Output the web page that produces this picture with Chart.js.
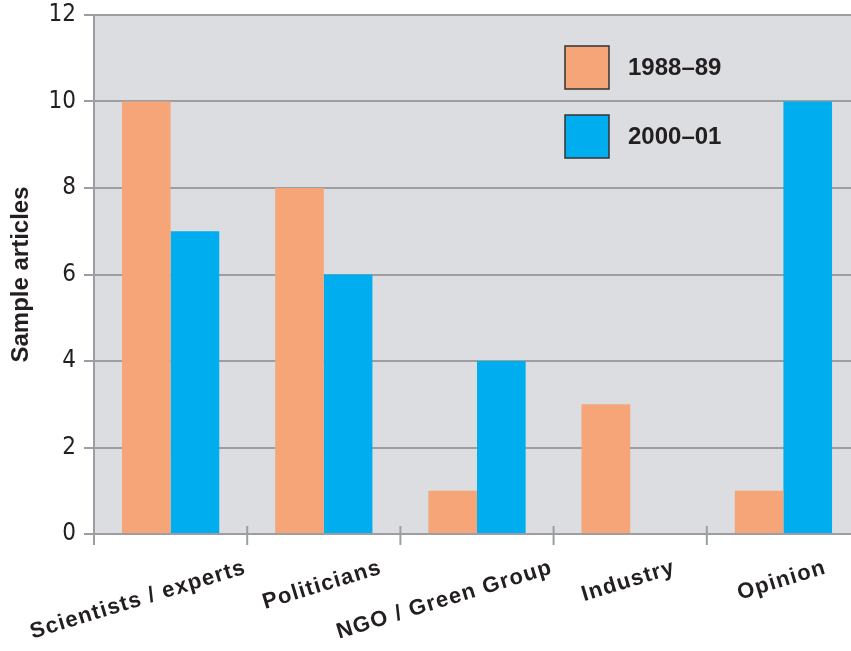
<!DOCTYPE html>
<html>
<head>
<meta charset="utf-8">
<script src="https://cdn.jsdelivr.net/npm/chart.js@4/dist/chart.umd.min.js"></script>
<style>
  html, body { margin: 0; padding: 0; background: #fff; overflow: hidden; }
  #wrap { width: 860px; height: 651px; }
</style>
</head>
<body>
<div id="wrap"><canvas id="chart"></canvas></div>
<script>
const categories = ["Scientists / experts", "Politicians", "NGO / Green Group", "Industry", "Opinion"];
const seriesNames = ["1988\u201389", "2000\u201301"];
const values1988 = [10, 8, 1, 3, 1];
const values2000 = [7, 6, 4, 0, 10];
const yTicks = [0, 2, 4, 6, 8, 10, 12];

const ORANGE = "#f5a578";
const BLUE = "#00adee";
const GRID = "#9c9ea1";
const TEXT = "#231f20";
const BOLD_FONT = "'Liberation Sans', Arial, sans-serif";

// plot background
const plotBg = {
  id: "plotBg",
  beforeDraw(chart) {
    const { ctx, chartArea: a } = chart;
    ctx.save();
    ctx.fillStyle = "#dcdde0";
    ctx.fillRect(a.left, a.top, a.right - a.left, a.bottom - a.top);
    ctx.restore();
  }
};

// legend drawn inside the plot, top right
const innerLegend = {
  id: "innerLegend",
  afterDraw(chart) {
    const { ctx, chartArea: a } = chart;
    const x = a.right - 295;
    ctx.save();
    chart.data.datasets.forEach((ds, i) => {
      const y = a.top + 31 + i * 69;
      ctx.fillStyle = ds.backgroundColor;
      ctx.fillRect(x, y, 44, 43);
      ctx.lineWidth = 1.5;
      ctx.strokeStyle = "#333";
      ctx.strokeRect(x, y, 44, 43);
      ctx.fillStyle = TEXT;
      ctx.font = "bold 24px " + BOLD_FONT;
      ctx.textBaseline = "middle";
      ctx.fillText(ds.label, x + 63, y + 22);
    });
    ctx.restore();
  }
};

// category boundary ticks crossing the x axis + slanted category labels
const xAxisExtras = {
  id: "xAxisExtras",
  afterDraw(chart) {
    const { ctx, chartArea: a, scales } = chart;
    const xs = scales.x;
    const step = (xs.right - xs.left) / categories.length;
    ctx.save();
    ctx.strokeStyle = GRID;
    ctx.lineWidth = 2;
    for (let i = 0; i <= categories.length; i++) {
      const px = xs.left + step * i;
      ctx.beginPath();
      ctx.moveTo(px, a.bottom - 8);
      ctx.lineTo(px, a.bottom + 11);
      ctx.stroke();
    }
    const ang = 17 * Math.PI / 180;
    ctx.font = "bold 22px " + BOLD_FONT;
    ctx.letterSpacing = "1.2px";
    ctx.fillStyle = TEXT;
    ctx.textAlign = "right";
    ctx.textBaseline = "alphabetic";
    categories.forEach((lab, i) => {
      const cx = xs.getPixelForValue(i);
      const w = ctx.measureText(lab).width * Math.cos(ang);
      // centred under the category, but never past the next boundary tick
      const rx = Math.min(cx + w / 2, cx + step / 2);
      ctx.save();
      ctx.translate(rx, a.bottom + 39);
      ctx.rotate(-ang);
      ctx.fillText(lab, 0, 0);
      ctx.restore();
    });
    ctx.restore();
  }
};

new Chart(document.getElementById("chart"), {
  type: "bar",
  data: {
    labels: categories,
    datasets: [
      { label: seriesNames[0], data: values1988, backgroundColor: ORANGE },
      { label: seriesNames[1], data: values2000, backgroundColor: BLUE }
    ]
  },
  options: {
    responsive: true,
    maintainAspectRatio: false,
    animation: false,
    layout: { padding: { top: 15, right: 0, left: 0, bottom: 0 } },
    datasets: { bar: { categoryPercentage: 0.635, barPercentage: 1 } },
    scales: {
      x: {
        grid: { display: false },
        border: { display: true, color: GRID, width: 2 },
        ticks: { display: false },
        afterFit(scale) {
          scale.height = 117;
          scale.paddingLeft = 0;
          scale.paddingRight = 0;
        }
      },
      y: {
        z: 1,
        min: 0,
        max: 12,
        afterBuildTicks(scale) { scale.ticks = yTicks.map(v => ({ value: v })); },
        grid: { color: GRID, lineWidth: 2, tickLength: 10 },
        border: { display: true, color: GRID, width: 2 },
        ticks: {
          color: TEXT,
          font: { family: "'Liberation Sans Narrow', 'DejaVu Sans Condensed', sans-serif", size: 24 },
          padding: 8
        },
        title: {
          display: true,
          text: "Sample articles",
          color: TEXT,
          font: { family: BOLD_FONT, size: 24, weight: "bold" },
          padding: { top: 7, bottom: 3 }
        },
        afterFit(scale) {
          scale.width = 94;
          scale.paddingTop = 0;
          scale.paddingBottom = 0;
        }
      }
    },
    plugins: {
      legend: { display: false },
      tooltip: { enabled: false }
    }
  },
  plugins: [plotBg, innerLegend, xAxisExtras]
});
</script>
</body>
</html>
